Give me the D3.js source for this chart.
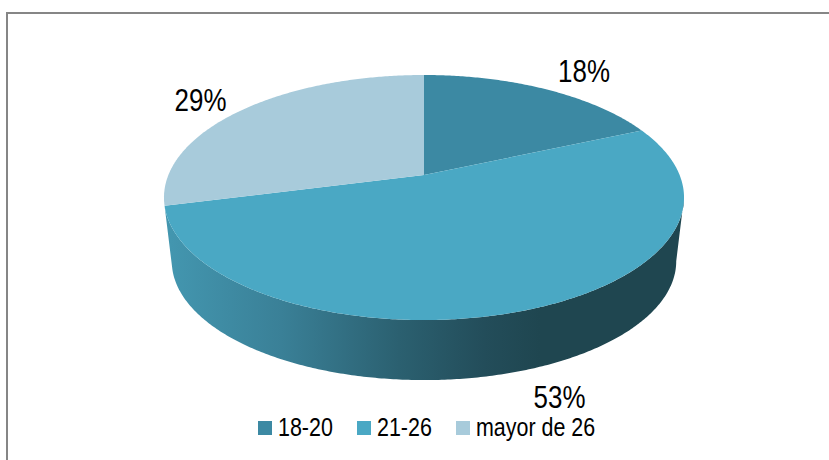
<!DOCTYPE html>
<html>
<head>
    <meta charset="utf-8">
    <title>Pie 3D</title>
    <script src="https://cdnjs.cloudflare.com/ajax/libs/d3/7.8.5/d3.min.js"></script>
    <style>
        html, body { margin: 0; padding: 0; background: #fff; }
        svg { display: block; }
        text { font-family: "Liberation Sans", Arial, sans-serif; fill: #000; }
    </style>
</head>
<body>
<svg id="renderer" width="829" height="460"></svg>
<script>
    var categories = ['18-20', '21-26', 'mayor de 26'];
    var values = [18.4, 52.6, 29];
    var colors = ['#3c89a3', '#4aa8c4', '#a8cbdb'];
    var labelX = [584, 559.5, 200.5];
    var labelY = [82, 408, 111];

    var root = d3.select('#renderer');

    // frame: only the top and left sides are in the picture
    root.append('line').attr('x1', 6).attr('x2', 829).attr('y1', 13).attr('y2', 13)
        .attr('stroke', '#868686').attr('stroke-width', 2);
    root.append('line').attr('x1', 7).attr('x2', 7).attr('y1', 12).attr('y2', 460)
        .attr('stroke', '#868686').attr('stroke-width', 2);

    // the disc is a flat circle seen in perspective, so the centre is above the middle of the ellipse
    var cx = 424, cy = 175, radiusX = 255.6, radiusY = 118.4, persp = -0.1837;
    var depthY = 64.4, depthScale = 0.97;

    // the text in the picture is narrower than Liberation Sans
    var narrowLabel = 0.81, narrowLegend = 0.825;

    function project(angle, dy, scale) {
        var u = Math.sin(angle), v = -Math.cos(angle);
        var w = 1 + persp * v;
        return [cx + scale * radiusX * u / w, cy + dy + scale * radiusY * v / w];
    }

    function arcPoints(a0, a1, dy, scale) {
        var n = Math.max(2, Math.ceil((a1 - a0) / 0.01));
        return d3.range(n + 1).map(function (i) {
            return project(a0 + (a1 - a0) * i / n, dy, scale);
        });
    }

    var pie = d3.pie().sort(null);
    var slices = pie(values);
    var line = d3.line();

    // only the front of the rim can be seen, between the two widest points of the ellipse
    var visibleFrom = Math.acos(-0.1836);
    var visibleTo = 2 * Math.PI - visibleFrom;

    var defs = root.append('defs');
    var rimGradient = defs.append('linearGradient')
        .attr('id', 'rim')
        .attr('gradientUnits', 'userSpaceOnUse')
        .attr('x1', 170).attr('x2', 540).attr('y1', 0).attr('y2', 0);
    [[0, '#4396af'], [0.3, '#3a8097'], [0.62, '#2b6070'], [0.85, '#234d5a'], [1, '#1f4650']].forEach(function (s) {
        rimGradient.append('stop').attr('offset', s[0]).attr('stop-color', s[1]);
    });

    // rim of the big slice
    var rimStart = Math.max(slices[1].startAngle, visibleFrom);
    var rimEnd = Math.min(slices[1].endAngle, visibleTo);
    var rimTop = arcPoints(rimStart, rimEnd, 0, 1);
    var rimBottom = arcPoints(rimStart, rimEnd, depthY, depthScale).reverse();
    root.append('path')
        .attr('d', line(rimTop.concat(rimBottom)) + 'Z')
        .attr('fill', 'url(#rim)');

    // top of the disc
    root.selectAll('path.slice')
        .data(slices)
        .enter()
        .append('path')
        .attr('class', 'slice')
        .attr('fill', function (d, i) { return colors[i]; })
        .attr('d', function (d) {
            return line([[cx, cy]].concat(arcPoints(d.startAngle, d.endAngle, 0, 1))) + 'Z';
        });

    // value labels
    root.selectAll('text.value')
        .data(values)
        .enter()
        .append('text')
        .attr('class', 'value')
        .attr('transform', function (d, i) {
            return 'translate(' + labelX[i] + ',' + labelY[i] + ') scale(' + narrowLabel + ',1)';
        })
        .attr('text-anchor', 'middle')
        .attr('font-size', 32)
        .text(function (d) { return Math.round(d) + '%'; });

    // legend
    var legendX = d3.scaleLinear().domain([0, 1]).range([258, 357]);
    var legend = root.selectAll('g.legend')
        .data(categories)
        .enter()
        .append('g')
        .attr('class', 'legend')
        .attr('transform', function (d, i) { return 'translate(' + legendX(i) + ',421)'; });
    legend.append('rect')
        .attr('width', 14)
        .attr('height', 14)
        .attr('fill', function (d, i) { return colors[i]; });
    legend.append('text')
        .attr('transform', 'translate(20,14.5) scale(' + narrowLegend + ',1)')
        .attr('font-size', 26)
        .text(function (d) { return d; });
</script>
</body>
</html>
